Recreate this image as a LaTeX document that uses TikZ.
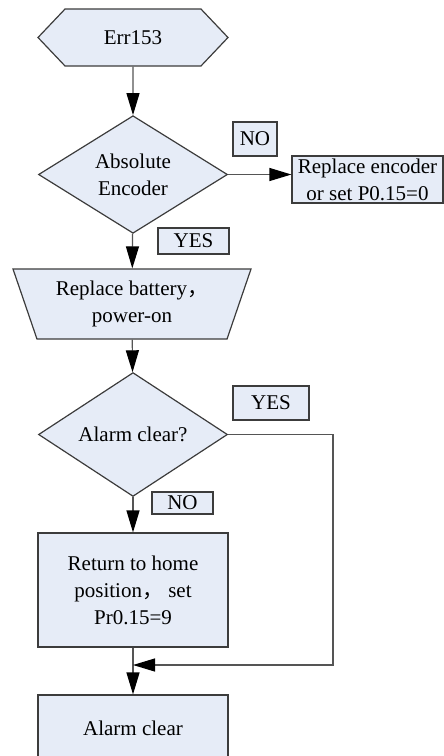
\documentclass[tikz,border=0pt]{standalone}
\usepackage{fontspec}
\setmainfont{Liberation Serif}
\newfontfamily\cjk{Noto Sans CJK SC}
\usetikzlibrary{arrows.meta,shapes.geometric,shapes.symbols}
\definecolor{boxfill}{RGB}{230,236,247}
\definecolor{boxline}{RGB}{60,60,60}
\definecolor{wire}{RGB}{85,85,85}

\begin{document}
\begin{tikzpicture}[x=0.5pt,y=-0.5pt,font=\fontsize{10.5}{13.5}\selectfont,
		base/.style={draw=boxline,fill=boxfill,line width=0.6pt,align=center,inner sep=0pt},
		term/.style={base,signal,signal to=west and east,signal pointer angle=93,minimum width=95pt,minimum height=28.5pt},
		dec/.style={base,diamond,minimum width=94.5pt,minimum height=56.5pt},
		manual/.style={base,trapezium,trapezium left angle=117.5,trapezium right angle=117.5,trapezium stretches body,minimum width=119pt,minimum height=35pt},
		proc/.style={base,rectangle,minimum width=95pt},
		lab/.style={base,rectangle},
		arr/.style={draw=wire,line width=0.6pt,-{Triangle[length=11pt,width=6.5pt,color=black]}}]

	\useasboundingbox (0,0) rectangle (444,756);
	\clip (0,0) rectangle (444,756);

	\node[term]   (err)  at (133,37.5)  {Err153};
	\node[dec]    (abs)  at (133,174.5) {Absolute\\Encoder};
	\node[proc,minimum width=75.5pt,minimum height=23.5pt] (enc) at (367.5,179.5) {Replace encoder\\or set P0.15=0};
	\node[manual] (bat)  at (132,304)   {Replace battery{\cjk ，}\\power-on};
	\node[dec]    (clr)  at (133,434.5) {Alarm clear?};
	\node[proc,minimum height=57pt] (home) at (133,590) {Return to home\\position{\cjk ，} set\\Pr0.15=9};
	\node[proc,minimum height=33pt] (done) at (133,728) {Alarm clear};

	\node[lab,minimum width=22pt,minimum height=17pt]   (no1)  at (255,139)   {NO};
	\node[lab,minimum width=35.5pt,minimum height=13pt] (yes1) at (193.5,241) {YES};
	\node[lab,minimum width=38pt,minimum height=17pt]   (yes2) at (271,403)   {YES};
	\node[lab,minimum width=30.5pt,minimum height=11pt] (no2)  at (182.5,503) {NO};

	\coordinate (turn) at (333,665);
	\coordinate (join) at (133,665);

	\draw[arr] (err) -- (abs);
	\draw[arr] (abs.east) -- (abs.east -| enc.west);
	\draw[arr] (abs) -- (bat);
	\draw[arr] (bat) -- (clr);
	\draw[arr] (clr) -- (home);
	\draw[arr] (home) -- (done);
	\draw[arr] (clr.east) -| (turn) -- (join);
\end{tikzpicture}
\end{document}
